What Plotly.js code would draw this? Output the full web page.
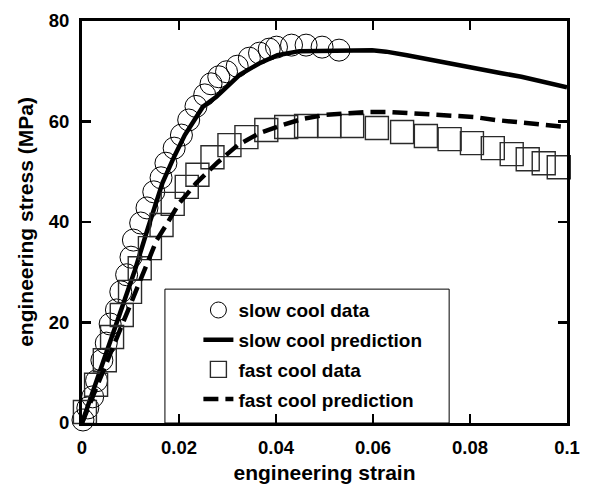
<!DOCTYPE html>
<html>
<head>
<meta charset="utf-8">
<script src="https://cdn.plot.ly/plotly-3.0.1.min.js"></script>
<style>
  html, body { margin: 0; padding: 0; background: #fff; }
  #chart { width: 593px; height: 484px; }
</style>
</head>
<body>
<div id="chart"></div>
<script>
// ---- data ----
var slowDataStrain = [0.0002, 0.0012, 0.0022, 0.0030, 0.0041, 0.0050, 0.0058, 0.0071, 0.0080, 0.0092,
  0.0101, 0.0106, 0.0121, 0.0134, 0.0148, 0.0163, 0.0173, 0.0190, 0.0205, 0.0220,
  0.0235, 0.0253, 0.0266, 0.0282, 0.0298, 0.0320, 0.0345, 0.0366, 0.0386, 0.0401,
  0.0432, 0.0462, 0.0495, 0.0530];
var slowDataStress = [0.6, 3.0, 5.2, 8.4, 12.5, 15.9, 19.7, 22.5, 26.1, 29.5,
  33.0, 36.4, 39.8, 42.8, 46.0, 48.8, 51.7, 54.7, 57.3, 60.3,
  63.0, 65.3, 67.5, 68.9, 69.9, 71.0, 72.6, 73.6, 74.4, 74.8,
  75.2, 75.2, 74.8, 74.2];

var slowPredStrain = [0, 0.0062, 0.0109, 0.0136, 0.0166, 0.0190, 0.0212, 0.0249, 0.0277, 0.0325,
  0.0366, 0.0403, 0.0448, 0.0598, 0.0627, 0.0670, 0.0711, 0.0752, 0.0793, 0.0832,
  0.0865, 0.0906, 0.1000];
var slowPredStress = [0, 17.5, 30.4, 38.8, 47.8, 53.0, 57.3, 62.9, 64.9, 69.3,
  71.6, 73.2, 74.0, 74.2, 73.9, 73.2, 72.4, 71.7, 70.9, 70.1,
  69.6, 68.9, 66.8];

var fastDataStrain = [0.0006, 0.0029, 0.0047, 0.0062, 0.0082, 0.0099, 0.0119, 0.0140, 0.0164, 0.0187,
  0.0216, 0.0238, 0.0269, 0.0304, 0.0339, 0.0380, 0.0421, 0.0462, 0.0510, 0.0557,
  0.0608, 0.0660, 0.0709, 0.0758, 0.0804, 0.0847, 0.0886, 0.0919, 0.0952, 0.0983];
var fastDataStress = [2.2, 7.6, 12.5, 17.1, 21.5, 26.1, 30.8, 34.8, 39.4, 43.6,
  47.0, 49.4, 52.9, 55.3, 56.9, 58.3, 58.9, 59.1, 59.1, 59.1,
  58.7, 57.9, 57.1, 56.5, 55.7, 54.7, 53.5, 52.5, 51.7, 50.9];

var fastPredStrain = [0, 0.0078, 0.0154, 0.0171, 0.0201, 0.0236, 0.0280, 0.0321, 0.0366, 0.0413,
  0.0454, 0.0500, 0.0545, 0.0588, 0.0633, 0.0678, 0.0721, 0.0763, 0.0808, 0.0853,
  0.0894, 0.0937, 0.1000];
var fastPredStress = [0, 18.3, 36.4, 39.0, 43.8, 47.8, 51.9, 55.3, 57.7, 59.3,
  60.5, 61.3, 61.7, 61.9, 61.9, 61.7, 61.5, 61.3, 60.9, 60.3,
  59.9, 59.5, 58.9];

var seriesNames = ["slow cool data", "slow cool prediction", "fast cool data", "fast cool prediction"];

var xTickVals = [0, 0.02, 0.04, 0.06, 0.08, 0.1];
var xTickText = ["0", "0.02", "0.04", "0.06", "0.08", "0.1"];
var yTickVals = [0, 20, 40, 60, 80];
var yTickText = ["0", "20", "40", "60", "80"];

// ---- chart ----
var FONT = "Liberation Sans, Arial, Helvetica, sans-serif";

var traces = [
  {
    x: slowDataStrain, y: slowDataStress, name: seriesNames[0], legendgroup: "a",
    type: "scatter", mode: "markers", cliponaxis: false,
    marker: { symbol: "circle-open", size: 22, color: "#000", line: { width: 1, color: "#000" } }
  },
  {
    x: slowPredStrain, y: slowPredStress, name: seriesNames[1], legendgroup: "b",
    type: "scatter", mode: "lines", cliponaxis: false,
    line: { color: "#000", width: 4.5 }
  },
  {
    x: fastDataStrain, y: fastDataStress, name: seriesNames[2], legendgroup: "c",
    type: "scatter", mode: "markers", cliponaxis: false,
    marker: { symbol: "square-open", size: 23, color: "#2a2a2a", line: { width: 1.4, color: "#2a2a2a" } }
  },
  {
    x: fastPredStrain, y: fastPredStress, name: seriesNames[3], legendgroup: "d",
    type: "scatter", mode: "lines", cliponaxis: false,
    line: { color: "#000", width: 4.5, dash: "15px,7px" }
  }
];

var axisCommon = {
  showgrid: false, zeroline: false,
  showline: true, linecolor: "#000", linewidth: 3, mirror: "ticks",
  ticks: "inside", ticklen: 9, tickwidth: 2.5, tickcolor: "#000",
  tickfont: { family: FONT, size: 18.5, color: "#000", weight: "bold" },
  ticklabelstandoff: 6,
  fixedrange: true
};

var layout = {
  width: 593, height: 484,
  margin: { l: 82, r: 26, t: 21, b: 61 },
  paper_bgcolor: "#fff", plot_bgcolor: "#fff",
  showlegend: true,
  font: { family: FONT, color: "#000" },
  xaxis: Object.assign({}, axisCommon, {
    range: [0, 0.1], tickvals: xTickVals, ticktext: xTickText,
    title: { text: "engineering strain", font: { family: FONT, size: 21, color: "#000", weight: "bold" }, standoff: 12 }
  }),
  yaxis: Object.assign({}, axisCommon, {
    range: [0, 80], tickvals: yTickVals, ticktext: yTickText,
    title: { text: "engineering stress (MPa)", font: { family: FONT, size: 21, color: "#000", weight: "bold" }, standoff: 10 }
  }),
  // legend frame (decoration only)
  shapes: [{
    type: "rect", xref: "paper", yref: "paper", layer: "below",
    x0: 0.171, x1: 0.757, y0: 0.0, y1: 0.333,
    line: { color: "#000", width: 1 }, fillcolor: "#fff"
  }],
  legend: {
    x: 0.24, y: 0.328, xanchor: "left", yanchor: "top",
    bgcolor: "rgba(0,0,0,0)", borderwidth: 0,
    font: { family: FONT, size: 19, color: "#000", weight: "bold" },
    traceorder: "grouped", tracegroupgap: 2,
    itemsizing: "trace"
  }
};

Plotly.newPlot("chart", traces, layout, { displayModeBar: false, staticPlot: true });
</script>
</body>
</html>
